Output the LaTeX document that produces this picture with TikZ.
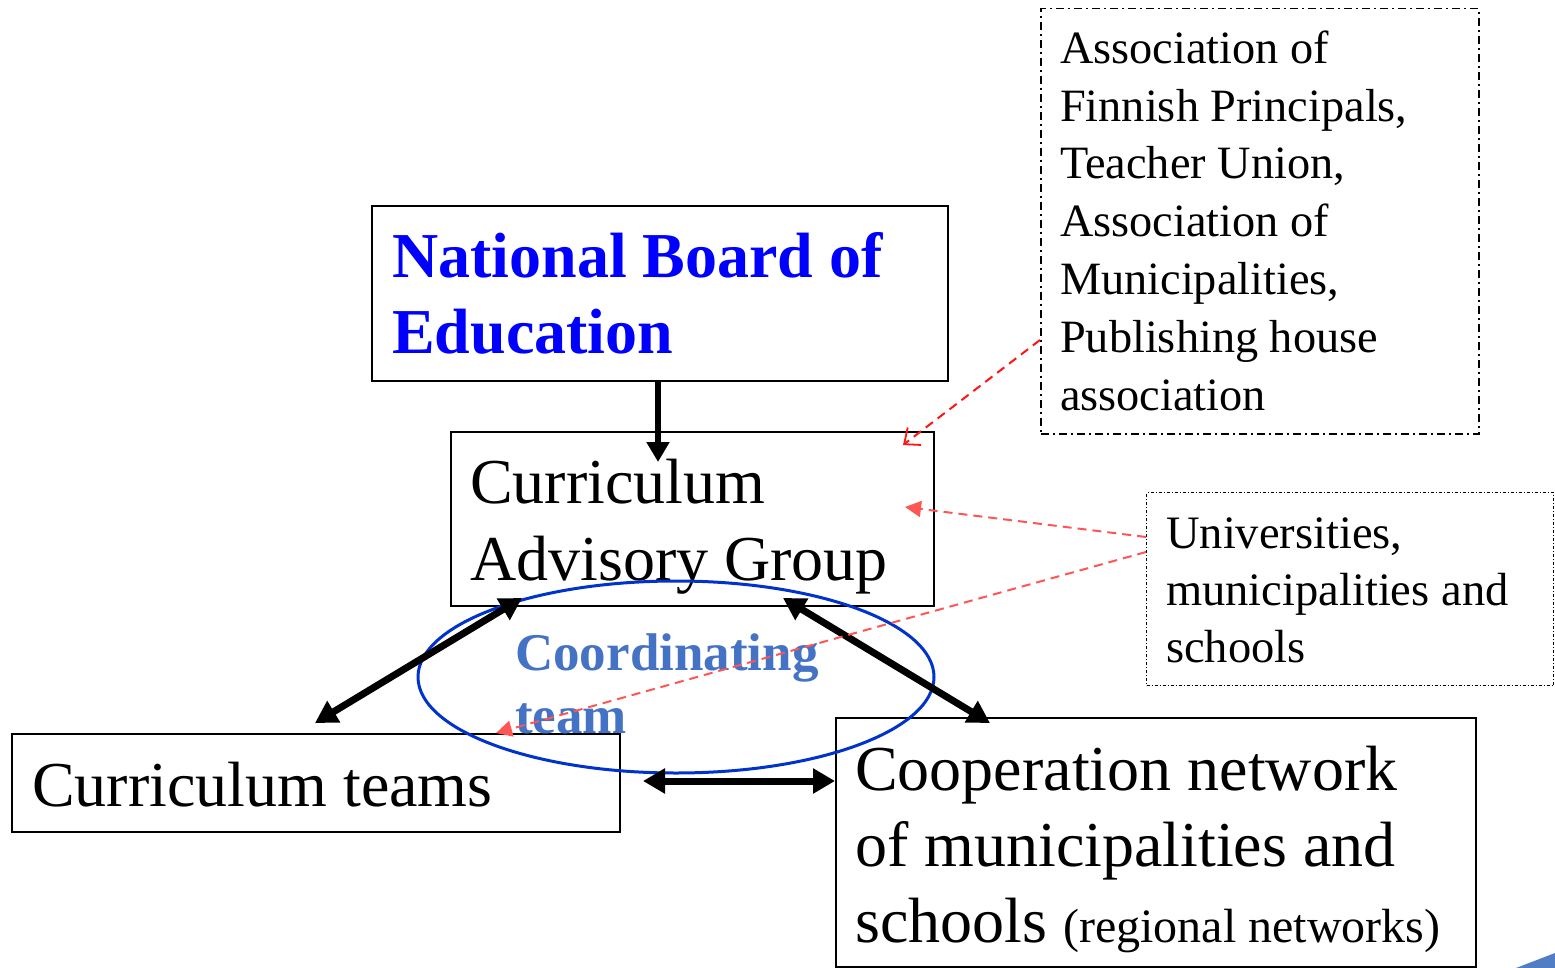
\documentclass[tikz,border=0pt]{standalone}
\usepackage{fontspec}
\setmainfont{Liberation Serif}
\usetikzlibrary{arrows.meta,shapes.geometric}
\definecolor{nbeblue}{RGB}{0,0,255}
\definecolor{ellblue}{RGB}{0,51,204}
\definecolor{coordblue}{RGB}{68,114,196}
\definecolor{redA}{RGB}{255,20,20}
\definecolor{redB}{RGB}{255,85,85}
\definecolor{cornerblue}{RGB}{80,125,195}
\begin{document}
\begin{tikzpicture}[x=1pt,y=-1pt,
  box/.style={draw, line width=2.2pt, inner sep=0pt, anchor=north west},
  txt/.style={anchor=base west, align=left, inner sep=0pt},
  bigtxt/.style={txt, font=\fontsize{64}{77}\selectfont},
  midtxt/.style={txt, font=\fontsize{46.3}{57.8}\selectfont},
  thickarrow/.style={line width=7pt, {Triangle[length=22pt,width=24pt]}-{Triangle[length=22pt,width=24pt]}},
  reddash/.style={dash pattern=on 9pt off 6pt, line width=2pt}
]
\useasboundingbox (0,0) rectangle (1555,968);

% boxes
\node[box, minimum width=576pt, minimum height=175pt] (nbe) at (371,205) {};
\node[box, minimum width=483pt, minimum height=174pt] (cag) at (450,431) {};
\node[box, minimum width=608pt, minimum height=98pt] (ct) at (11,733) {};
\node[box, minimum width=640pt, minimum height=249pt] (coop) at (835,717) {};
\node[box, line width=1.5pt, dash pattern=on 8pt off 4pt on 2pt off 4pt, minimum width=438pt, minimum height=425pt] (assoc) at (1040,8) {};
\node[box, line width=1pt, dash pattern=on 3pt off 2pt on 1pt off 2pt, minimum width=407pt, minimum height=193pt] (univ) at (1146,492) {};

% texts (anchored at the baseline of their last line)
\node[txt, font=\fontsize{64}{76}\selectfont\bfseries, text=nbeblue] (nbet) at (392,353) {National Board of\\Education};
\node[bigtxt] (cagt) at (470,580) {Curriculum\\Advisory Group};
\node[bigtxt] (ctt) at (32,806) {Curriculum teams};
\node[txt, font=\fontsize{64}{76}\selectfont] (coopt) at (855,942) {Cooperation network\\of municipalities and\\schools {\fontsize{48}{76}\selectfont(regional networks)}};
\node[midtxt] (assoct) at (1060,410) {Association of\\Finnish Principals,\\Teacher Union,\\Association of\\Municipalities,\\Publishing house\\association};
\node[txt, font=\fontsize{46.5}{57}\selectfont] (univt) at (1166,662) {Universities,\\municipalities and\\schools};

% coordinating team ellipse
\node[draw=ellblue, line width=3pt, ellipse, minimum width=516pt, minimum height=192pt, inner sep=0pt] (coord) at (676,677) {};
\node[txt, font=\fontsize{53}{63}\selectfont\bfseries, text=coordblue] (coordt) at (515,733) {Coordinating\\team};

% black arrows
\coordinate (nbeend) at (658,462);
\draw[line width=6pt, -{Triangle[length=20pt,width=22pt]}] (nbe.south -| nbeend) -- (nbeend);
\coordinate (a1) at (522,598);
\coordinate (a2) at (315,723);
\draw[thickarrow] (a1) -- (a2);
\coordinate (b1) at (783,598);
\coordinate (b2) at (990,723);
\draw[thickarrow] (b1) -- (b2);
\coordinate (h1) at (643,781);
\draw[thickarrow] (h1) -- (coop.west |- h1);

% red dashed arrows
\coordinate (r1s) at (assoc.west |- 0,340);
\coordinate (r1e) at (903,445);
\draw[reddash, draw=redA, -{Straight Barb[length=13pt,width=22pt,line width=1.8pt]}] (r1s) -- (r1e);
\coordinate (r2s) at (univ.west |- 0,537);
\coordinate (r2e) at (905,507);
\draw[reddash, draw=redB, -{Triangle[length=16pt,width=16pt]}] (r2s) -- (r2e);
\coordinate (r3s) at (univ.west |- 0,552);
\coordinate (r3e) at (496,733);
\draw[reddash, draw=redB, -{Triangle[length=16pt,width=16pt]}] (r3s) -- (r3e);

% corner fragment
\fill[cornerblue] (1516,968) -- (1555,953) -- (1555,968) -- cycle;
\end{tikzpicture}
\end{document}
